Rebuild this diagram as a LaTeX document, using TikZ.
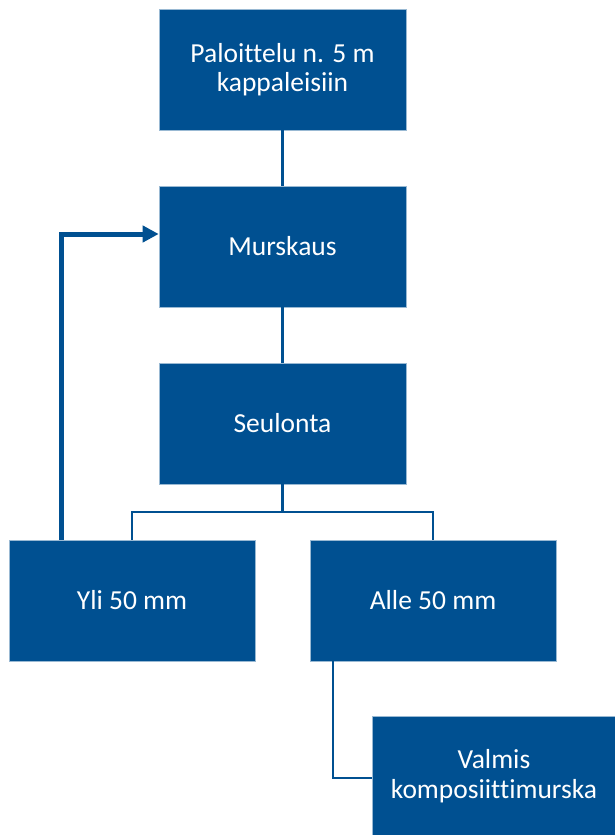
\documentclass[tikz,border=0pt]{standalone}
\usepackage{fontspec}
\setmainfont{Carlito}[Ligatures=NoCommon]
\usetikzlibrary{arrows.meta}
\definecolor{boxblue}{RGB}{0,80,145}
\tikzset{
  stepbox/.style={fill=boxblue, draw=boxblue!40!white, line width=0.6pt,
    text=white, align=center, font=\fontsize{27.5}{29.5}\selectfont, inner sep=0pt},
  link/.style={draw=boxblue, line width=2.2pt},
  back/.style={draw=boxblue, line width=5pt, -{Triangle[length=16pt,width=16pt]}}
}
\begin{document}
\begin{tikzpicture}[x=1pt,y=-1pt]
\useasboundingbox (0,0) rectangle (615,835);
\clip (0,0) rectangle (615,835);
\node[stepbox, minimum width=247pt, minimum height=121pt] (p) at (282.5,69.5) {Paloittelu n. 5 m\\kappaleisiin};
\node[stepbox, minimum width=247pt, minimum height=121pt] (m) at (282.5,246.5) {Murskaus};
\node[stepbox, minimum width=247pt, minimum height=121pt] (s) at (282.5,423.5) {Seulonta};
\node[stepbox, minimum width=246pt, minimum height=121pt] (y) at (132,600.5) {Yli 50 mm};
\node[stepbox, minimum width=246pt, minimum height=121pt] (a) at (433,600.5) {Alle 50 mm};
\node[stepbox, minimum width=244pt, minimum height=120pt] (v) at (494,776) {Valmis\\komposiittimurska};
\coordinate (j) at (282.5,512);
\coordinate (c) at (61,234);
\coordinate (k) at (333,778);
\draw[link] (p.south) -- (m.north);
\draw[link] (m.south) -- (s.north);
\draw[link] (s.south) -- (j);
\draw[link] (y.north) |- (j) -| (a.north);
\draw[link] (a.south -| k) -- (k) -- (v.west |- k);
\draw[back] (y.north -| c) -- (c) -- (m.west |- c);
\end{tikzpicture}
\end{document}
